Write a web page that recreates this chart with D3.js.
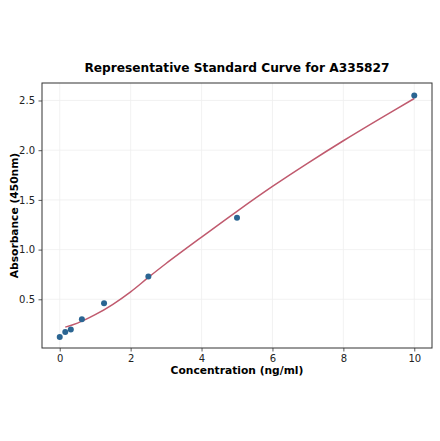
<!DOCTYPE html>
<html>
<head>
<meta charset="utf-8">
<script src="https://cdn.jsdelivr.net/npm/d3@7/dist/d3.min.js"></script>
<style>
  body { margin: 0; background: #fff; }
  text { font-family: "DejaVu Sans", sans-serif; }
</style>
</head>
<body>
<svg id="chart" width="440" height="441"></svg>
<script>
// measured standards
const concentrations = [0, 0.156, 0.3125, 0.625, 1.25, 2.5, 5, 10];
const absorbances = [0.12, 0.17, 0.196, 0.30, 0.46, 0.73, 1.32, 2.55];

// fitted curve
const curveX = [0.156, 0.5, 1, 1.5, 2, 2.5, 3, 4, 5, 6, 7, 8, 9, 10];
const curveY = [0.22, 0.26, 0.345, 0.45, 0.575, 0.72, 0.86, 1.125, 1.385, 1.635, 1.87, 2.095, 2.31, 2.52];

const xTicks = [0, 2, 4, 6, 8, 10];
const yTicks = [0.5, 1.0, 1.5, 2.0, 2.5];

const margin = { top: 83, left: 42, right: 8, bottom: 93 };
const width = 440 - margin.left - margin.right;
const height = 441 - margin.top - margin.bottom;

const svg = d3.select('#chart');

const x = d3.scaleLinear().domain([-0.5, 10.5]).range([0, width]);
const y = d3.scaleLinear().domain([0.01, 2.676]).range([height, 0]);

const g = svg.append('g')
  .attr('transform', `translate(${margin.left}, ${margin.top})`);

// grid
g.selectAll('line.gx').data(xTicks).enter().append('line')
  .attr('x1', d => x(d)).attr('x2', d => x(d))
  .attr('y1', 0).attr('y2', height)
  .attr('stroke', '#efefef').attr('stroke-width', 0.8);
g.selectAll('line.gy').data(yTicks).enter().append('line')
  .attr('x1', 0).attr('x2', width)
  .attr('y1', d => y(d)).attr('y2', d => y(d))
  .attr('stroke', '#efefef').attr('stroke-width', 0.8);

// axes
const xAxis = g.append('g')
  .attr('transform', `translate(0, ${height})`)
  .call(d3.axisBottom(x).tickValues(xTicks).tickSize(3.5).tickPadding(3.5).tickFormat(d3.format('d')));
const yAxis = g.append('g')
  .call(d3.axisLeft(y).tickValues(yTicks).tickSize(3.5).tickPadding(3.5).tickFormat(d3.format('.1f')));

[xAxis, yAxis].forEach(a => {
  a.select('.domain').remove();
  a.selectAll('.tick line').attr('stroke', '#333').attr('stroke-width', 0.8);
  a.selectAll('.tick text').attr('fill', '#222').style('font-size', '10px')
    .style('font-family', '"DejaVu Sans", sans-serif');
});

// frame
g.append('rect')
  .attr('width', width).attr('height', height)
  .attr('fill', 'none').attr('stroke', '#333').attr('stroke-width', 1);

// fitted curve
const line = d3.line()
  .x((d, i) => x(curveX[i]))
  .y(d => y(d))
  .curve(d3.curveCatmullRom);

g.append('path')
  .datum(curveY)
  .attr('d', line)
  .attr('fill', 'none')
  .attr('stroke', '#c05a6e')
  .attr('stroke-width', 1.5);

// points
g.selectAll('circle').data(absorbances).enter().append('circle')
  .attr('cx', (d, i) => x(concentrations[i]))
  .attr('cy', d => y(d))
  .attr('r', 3)
  .attr('fill', '#2b6592');

// titles
svg.append('text')
  .attr('x', margin.left + width / 2).attr('y', 72)
  .attr('text-anchor', 'middle')
  .style('font-size', '12.2px').style('font-weight', 'bold')
  .text('Representative Standard Curve for A335827');

svg.append('text')
  .attr('x', margin.left + width / 2).attr('y', 374)
  .attr('text-anchor', 'middle')
  .style('font-size', '10.7px').style('font-weight', 'bold')
  .text('Concentration (ng/ml)');

svg.append('text')
  .attr('transform', `translate(18, ${margin.top + height / 2}) rotate(-90)`)
  .attr('text-anchor', 'middle')
  .style('font-size', '10.7px').style('font-weight', 'bold')
  .text('Absorbance (450nm)');
</script>
</body>
</html>
